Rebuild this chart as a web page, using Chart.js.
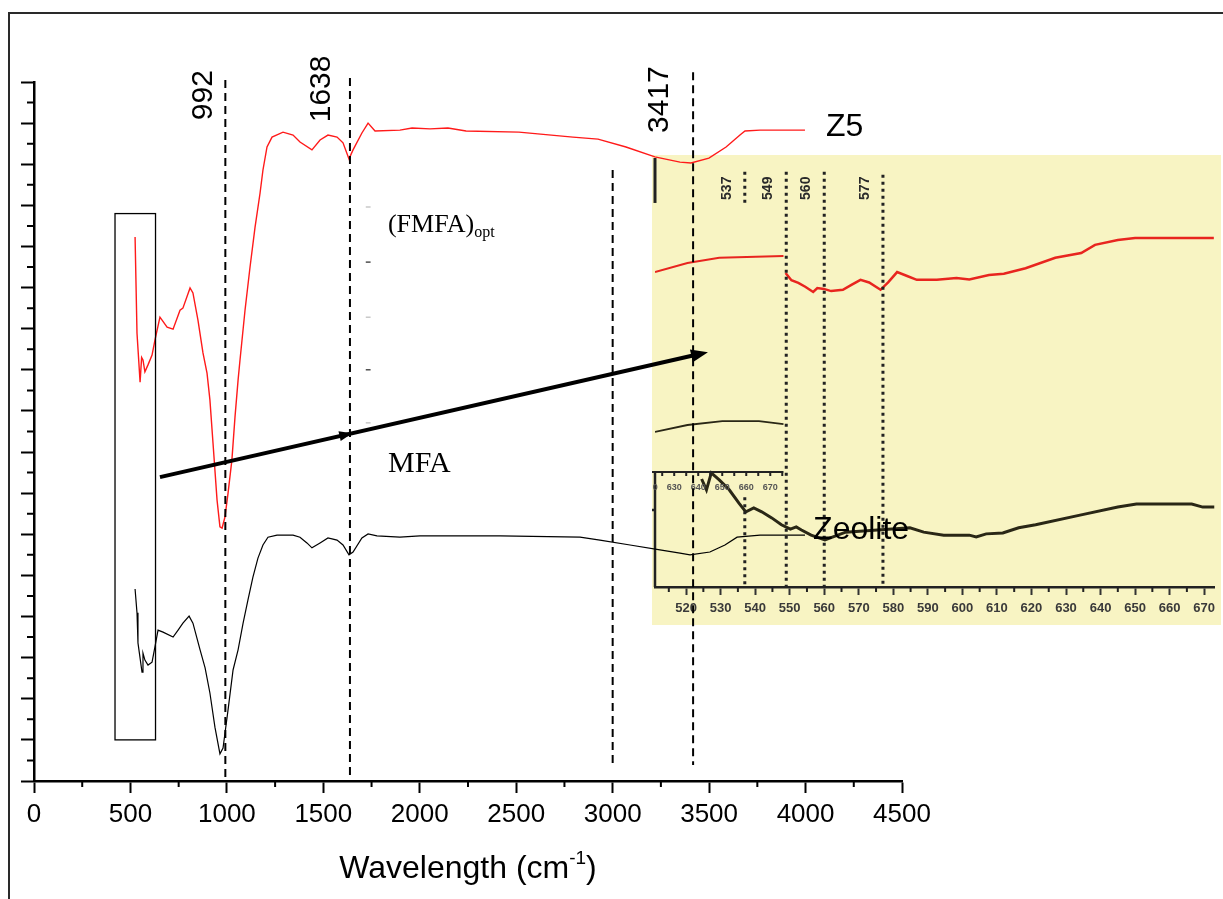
<!DOCTYPE html>
<html>
<head>
<meta charset="utf-8">
<script src="https://cdn.jsdelivr.net/npm/chart.js@4.4.1/dist/chart.umd.min.js"></script>
<style>
  html, body { margin: 0; padding: 0; background: #fff; }
  #wrap { position: relative; width: 1223px; height: 899px; overflow: hidden; }
  #inset { position: absolute; left: 652px; top: 155px; z-index: 0; filter: blur(0.5px); }
  #main { position: absolute; left: 0; top: 0; z-index: 1; }
</style>
</head>
<body>
<div id="wrap">
  <canvas id="inset" width="569" height="475"></canvas>
  <canvas id="main" width="1223" height="899"></canvas>
</div>
<script>
// FTIR spectra, Z5 (red) above the parent zeolite (black), offset transmittance
const z5Wave = [524,534,550,558,565,575,591,612,627,653,690,721,757,772,809,824,850,876,897,912,
  928,949,964,975,990,1006,1026,1042,1058,1068,1094,1120,1146,1172,1187,1208,1234,1291,1343,1379,
  1441,1483,1524,1571,1602,1633,1654,1700,1732,1768,1897,1960,2053,2146,2240,2514,2794,2924,3069,3219,
  3349,3406,3499,3588,3660,3686,3764,3997];
const z5T = [13.23,10.89,9.70,10.30,10.24,9.95,10.12,10.36,10.72,11.28,11.04,10.99,11.45,11.50,11.99,11.87,11.21,10.41,9.92,9.27,
  8.22,6.83,6.18,6.15,6.42,7.00,7.81,8.85,9.75,10.24,11.45,12.50,13.47,14.30,14.86,15.42,15.66,15.78,15.71,15.54,
  15.35,15.59,15.71,15.66,15.52,15.13,15.35,15.76,16.00,15.81,15.83,15.88,15.86,15.88,15.81,15.78,15.66,15.61,15.42,15.18,
  15.05,15.03,15.15,15.42,15.71,15.81,15.83,15.83];

const zeoWave = [524,534,539,560,565,575,591,612,627,643,669,721,747,772,804,824,861,887,912,938,
  964,980,1006,1032,1058,1084,1109,1135,1161,1187,1213,1260,1343,1379,1415,1441,1483,1524,1571,1602,
  1633,1654,1700,1732,1778,1897,2001,2416,2831,2934,3090,3245,3349,3401,3504,3582,3645,3764,3997];
const zeoT = [4.67,4.09,3.36,2.65,3.11,2.94,2.82,2.89,3.26,3.67,3.62,3.50,3.67,3.84,4.01,3.84,3.19,2.75,2.14,1.31,
  0.66,0.80,1.73,2.70,3.19,3.84,4.40,4.96,5.42,5.74,5.93,5.98,5.98,5.93,5.79,5.67,5.79,5.91,5.86,5.74,
  5.50,5.57,5.91,6.01,5.96,5.93,5.96,5.96,5.93,5.86,5.74,5.62,5.54,5.50,5.57,5.74,5.93,5.98,5.98];

const xTicks = [0,500,1000,1500,2000,2500,3000,3500,4000,4500];
const peakMarks = [992, 1638, 3417];
const extraMark = 3000;

// enlarged low-wavenumber window (pasted panel)
const insetZ5WaveA = [511,520.4,529.6,548.2];
const insetZ5A = [7.29,7.50,7.62,7.66];
const insetZ5WaveB = [548.8,550.5,552.5,554.5,556.8,558,559.9,562,565.4,568,570.5,573,576.3,578.5,581.1,584,586.8,592.6,598.3,602,
  607.7,612,618.3,626.9,634.4,638.4,645.0,650,672.8];
const insetZ5B = [7.27,7.10,7.04,6.95,6.83,6.92,6.90,6.85,6.88,7.00,7.11,7.05,6.88,7.05,7.29,7.20,7.11,7.11,7.15,7.12,
  7.22,7.25,7.38,7.62,7.73,7.92,8.03,8.08,8.08];
const insetZeoWaveA = [511,520.4,530.5,541.1,548.2];
const insetZeoA = [3.59,3.75,3.84,3.84,3.77];
const insetZeoWaveB = [524.5,525.9,527.3,529.6,532.5,535.3,537.3,539.6,541.9,544.8,547.6,550.2,551.9,553.4,556.2,560.2,566.2,575.4,584.8,588.8,
  594.6,602.0,604.0,606.9,611.7,616.3,621.2,634.4,645.0,650.4,666.4,669.6,673];
const insetZeoB = [2.50,2.25,2.64,2.48,2.25,1.94,1.74,1.83,1.74,1.60,1.44,1.34,1.39,1.32,1.20,1.09,1.27,1.32,1.37,1.27,
  1.20,1.20,1.16,1.23,1.25,1.37,1.44,1.67,1.85,1.92,1.92,1.85,1.85];
const insetTicks = [520,530,540,550,560,570,580,590,600,610,620,630,640,650,660,670];
const insetPeaks = [537, 549, 560, 577];
const insetSubTicks = [620,630,640,650,660,670];

Chart.defaults.font.family = "'Liberation Sans', Arial, sans-serif";
const toPts = (xs, ys) => xs.map((v, i) => ({ x: v, y: ys[i] }));

// dashed guides in the main panel, extents in axis units
const guides = [
  { at: peakMarks[0], from: 0.07, to: 17.05, dx: -22, labelAt: 16.07 },
  { at: peakMarks[1], from: 0.07, to: 17.10, dx: -28, labelAt: 16.02 },
  { at: extraMark, from: 0.39, to: 14.86 },
  { at: peakMarks[2], from: 0.39, to: 17.24, dx: -33, labelAt: 15.76 }
];

function arrowHead(ctx, x, y, ang, len, half) {
  ctx.beginPath();
  ctx.moveTo(x, y);
  ctx.lineTo(x - len * Math.cos(ang) + half * Math.sin(ang), y - len * Math.sin(ang) - half * Math.cos(ang));
  ctx.lineTo(x - len * Math.cos(ang) - half * Math.sin(ang), y - len * Math.sin(ang) + half * Math.cos(ang));
  ctx.closePath();
  ctx.fill();
}

const mainNotes = {
  id: 'mainNotes',
  afterDraw(chart) {
    const { ctx } = chart;
    const x = chart.scales.x, y = chart.scales.y;
    const X = v => x.getPixelForValue(v), Y = v => y.getPixelForValue(v);
    ctx.save();

    // page frame
    ctx.strokeStyle = '#2a2a2a';
    ctx.lineWidth = 2;
    ctx.strokeRect(9, 13, 1400, 1000);

    // minor ticks
    ctx.strokeStyle = '#000';
    ctx.lineWidth = 2;
    ctx.beginPath();
    for (let v = 250; v < 4500; v += 500) { ctx.moveTo(X(v), y.bottom); ctx.lineTo(X(v), y.bottom + 6); }
    for (let v = 0.5; v < 17; v += 1) { ctx.moveTo(x.left, Y(v)); ctx.lineTo(x.left - 7, Y(v)); }
    ctx.stroke();

    // dashed guides and peak labels
    ctx.setLineDash([8, 5]);
    guides.forEach(g => {
      ctx.beginPath();
      ctx.moveTo(X(g.at), Y(g.to));
      ctx.lineTo(X(g.at), Y(g.from));
      ctx.stroke();
    });
    ctx.setLineDash([]);
    ctx.fillStyle = '#000';
    ctx.font = "30px 'Liberation Sans', Arial, sans-serif";
    ctx.textAlign = 'left';
    ctx.textBaseline = 'middle';
    guides.filter(g => g.labelAt).forEach(g => {
      ctx.save();
      ctx.translate(X(g.at) + g.dx, Y(g.labelAt));
      ctx.rotate(-Math.PI / 2);
      ctx.fillText(String(g.at), 0, 0);
      ctx.restore();
    });

    // series names
    ctx.textBaseline = 'alphabetic';
    ctx.font = "32px 'Liberation Sans', Arial, sans-serif";
    ctx.fillText('Z5', X(4106), Y(15.69));
    ctx.fillText('Zeolite', X(4039), Y(5.89));
    ctx.font = "26px 'Liberation Serif', 'Times New Roman', serif";
    ctx.fillText('(FMFA)', X(1835), Y(13.35));
    const w1 = ctx.measureText('(FMFA)').width;
    ctx.font = "16px 'Liberation Serif', 'Times New Roman', serif";
    ctx.fillText('opt', X(1835) + w1, Y(13.35) + 5);
    ctx.font = "30px 'Liberation Serif', 'Times New Roman', serif";
    ctx.fillText('MFA', X(1835), Y(7.51));

    // stray marks beside the labels
    [[13.96, '#bbb'], [12.62, '#222'], [11.28, '#bbb'], [10.0, '#222'], [8.71, '#bbb']].forEach(([v, c]) => {
      ctx.strokeStyle = c;
      ctx.lineWidth = 1.2;
      ctx.beginPath();
      ctx.moveTo(X(1720), Y(v));
      ctx.lineTo(X(1745), Y(v));
      ctx.stroke();
    });

    // window around the 500-650 cm-1 region
    ctx.strokeStyle = '#000';
    ctx.lineWidth = 1.3;
    ctx.strokeRect(X(420), Y(13.8), X(630) - X(420), Y(1.0) - Y(13.8));

    // arrow to the enlarged panel
    const sx = X(653), sy = Y(7.39), ex = X(3494), ey = Y(10.43);
    const ang = Math.atan2(ey - sy, ex - sx);
    ctx.lineWidth = 4;
    ctx.beginPath();
    ctx.moveTo(sx, sy);
    ctx.lineTo(ex - 12 * Math.cos(ang), ey - 12 * Math.sin(ang));
    ctx.stroke();
    arrowHead(ctx, ex, ey, ang, 17, 6.5);
    const mx = X(1650), my = sy + (mx - sx) * Math.tan(ang);
    arrowHead(ctx, mx, my, ang, 13, 5);

    // axis title with superscript
    const base = 878;
    const big = "32px 'Liberation Sans', Arial, sans-serif";
    const small = "19px 'Liberation Sans', Arial, sans-serif";
    ctx.font = big;
    const a = ctx.measureText('Wavelength (cm').width;
    const c = ctx.measureText(')').width;
    ctx.font = small;
    const b = ctx.measureText('-1').width;
    let tx = (x.left + x.right) / 2 - (a + b + c) / 2;
    ctx.font = big;
    ctx.fillText('Wavelength (cm', tx, base);
    ctx.font = small;
    ctx.fillText('-1', tx + a, base - 14);
    ctx.font = big;
    ctx.fillText(')', tx + a + b, base);

    ctx.restore();
  }
};

new Chart(document.getElementById('main'), {
  type: 'line',
  data: {
    datasets: [
      { label: 'Z5', data: toPts(z5Wave, z5T), borderColor: '#ff1a1a', borderWidth: 1.4, pointRadius: 0, tension: 0 },
      { label: 'Zeolite', data: toPts(zeoWave, zeoT), borderColor: '#000', borderWidth: 1.2, pointRadius: 0, tension: 0 }
    ]
  },
  options: {
    responsive: false,
    animation: false,
    events: [],
    layout: { padding: { left: 0, right: 321, top: 82, bottom: 0 } },
    plugins: { legend: { display: false }, tooltip: { enabled: false } },
    scales: {
      x: {
        type: 'linear', min: 0, max: 4500,
        ticks: {
          stepSize: 500, autoSkip: false, maxRotation: 0, padding: 6, color: '#000',
          font: { size: 26 },
          callback: v => (xTicks.includes(v) ? String(v) : '')
        },
        grid: { drawOnChartArea: false, tickLength: 12, tickWidth: 2, tickColor: '#000' },
        border: { color: '#000', width: 2.5 },
        afterFit: s => { s.height = 118; }
      },
      y: {
        type: 'linear', min: 0, max: 17,
        ticks: { display: false, stepSize: 1 },
        grid: { drawOnChartArea: false, tickLength: 13, tickWidth: 2, tickColor: '#000' },
        border: { color: '#000', width: 2.5 },
        afterFit: s => { s.width = 34; }
      }
    }
  },
  plugins: [mainNotes]
});

// ---- enlarged panel ----
const insetGuides = [
  { at: insetPeaks[0], segs: [[8.89, 9.61], [0, 2.08]] },
  { at: insetPeaks[1], segs: [[0, 9.61]] },
  { at: insetPeaks[2], segs: [[0, 9.61]] },
  { at: insetPeaks[3], segs: [[0, 9.54]] }
];

const insetDecor = {
  id: 'insetDecor',
  beforeDraw(chart) {
    const { ctx } = chart;
    ctx.save();
    ctx.fillStyle = '#f8f4c3';
    ctx.fillRect(0, 0, chart.width, 470);
    ctx.restore();
  },
  afterDatasetsDraw(chart) {
    const { ctx } = chart;
    const x = chart.scales.x, y = chart.scales.y, x3 = chart.scales.x3;
    const X = v => x.getPixelForValue(v), Y = v => y.getPixelForValue(v);
    ctx.save();
    ctx.strokeStyle = '#222';
    ctx.fillStyle = '#2a2a2a';

    // dotted peak lines
    ctx.lineWidth = 3;
    ctx.setLineDash([3, 4]);
    insetGuides.forEach(g => g.segs.forEach(([lo, hi]) => {
      ctx.beginPath();
      ctx.moveTo(X(g.at), Y(hi));
      ctx.lineTo(X(g.at), Y(lo));
      ctx.stroke();
    }));
    ctx.setLineDash([]);

    // peak labels, rotated
    ctx.font = "bold 14px 'Liberation Sans', Arial, sans-serif";
    ctx.textAlign = 'left';
    ctx.textBaseline = 'middle';
    insetPeaks.forEach(p => {
      ctx.save();
      ctx.translate(X(p) - 18, Y(8.96));
      ctx.rotate(-Math.PI / 2);
      ctx.fillText(String(p), 0, 0);
      ctx.restore();
    });

    // axis stub at the top left
    ctx.lineWidth = 3;
    ctx.beginPath();
    ctx.moveTo(X(511), Y(9.93));
    ctx.lineTo(X(511), Y(8.89));
    ctx.stroke();

    // left axis of the lower panel
    ctx.lineWidth = 2.5;
    ctx.beginPath();
    ctx.moveTo(X(511), Y(2.66));
    ctx.lineTo(X(511), Y(0));
    ctx.moveTo(X(511), Y(1.78));
    ctx.lineTo(X(511) - 3, Y(1.78));
    ctx.stroke();

    // minor ticks on the bottom axis
    ctx.lineWidth = 2;
    ctx.beginPath();
    for (let v = 515; v < 673; v += 10) { ctx.moveTo(X(v), y.bottom); ctx.lineTo(X(v), y.bottom + 5); }
    ctx.stroke();

    // small sub-axis from the pasted panel
    const sy = Y(2.66);
    ctx.lineWidth = 2;
    ctx.beginPath();
    ctx.moveTo(X(510), sy);
    ctx.lineTo(X(548.2), sy);
    for (let v = 620; v <= 675; v += 5) { ctx.moveTo(x3.getPixelForValue(v), sy); ctx.lineTo(x3.getPixelForValue(v), sy + 4); }
    ctx.stroke();
    ctx.save();
    ctx.beginPath();
    ctx.rect(x.left - 2, 0, X(548.2) - x.left + 2, chart.height);
    ctx.clip();
    ctx.fillStyle = '#555';
    ctx.font = "bold 9px 'Liberation Sans', Arial, sans-serif";
    ctx.textAlign = 'center';
    insetSubTicks.forEach(v => ctx.fillText(String(v), x3.getPixelForValue(v), Y(2.31)));
    ctx.restore();

    ctx.restore();
  }
};

new Chart(document.getElementById('inset'), {
  type: 'line',
  data: {
    datasets: [
      { data: toPts(insetZ5WaveA, insetZ5A), borderColor: '#e8251f', borderWidth: 2, pointRadius: 0, tension: 0 },
      { data: toPts(insetZ5WaveB, insetZ5B), borderColor: '#e8251f', borderWidth: 2.5, pointRadius: 0, tension: 0 },
      { data: toPts(insetZeoWaveA, insetZeoA), borderColor: '#2a2716', borderWidth: 1.8, pointRadius: 0, tension: 0 },
      { data: toPts(insetZeoWaveB, insetZeoB), borderColor: '#2a2716', borderWidth: 3, pointRadius: 0, tension: 0 }
    ]
  },
  options: {
    responsive: false,
    animation: false,
    events: [],
    layout: { padding: { left: 3, right: 0, top: 0, bottom: 0 } },
    plugins: { legend: { display: false }, tooltip: { enabled: false } },
    scales: {
      x: {
        type: 'linear', min: 511, max: 673,
        ticks: {
          stepSize: 10, includeBounds: false, autoSkip: false, maxRotation: 0, padding: 6,
          color: '#3a3a3a', font: { size: 13, weight: 'bold' },
          callback: v => (insetTicks.includes(v) ? String(v) : '')
        },
        grid: { drawOnChartArea: false, tickLength: 8, tickWidth: 2, tickColor: '#333' },
        border: { color: '#222', width: 2.5 },
        afterFit: s => { s.height = 43; }
      },
      x3: { type: 'linear', axis: 'x', display: false, min: 622, max: 855 },
      y: { type: 'linear', min: 0, max: 10, display: false }
    }
  },
  plugins: [insetDecor]
});
</script>
</body>
</html>
